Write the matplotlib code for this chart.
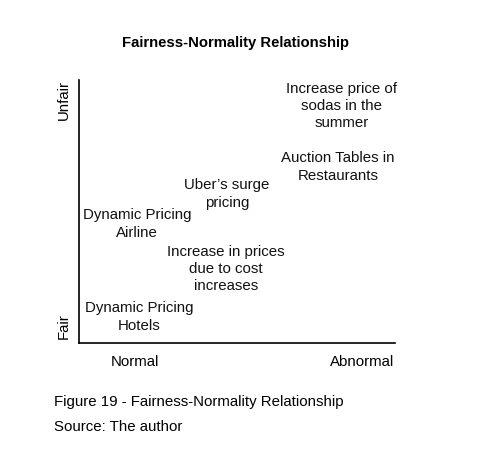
import matplotlib
matplotlib.use("Agg")
import matplotlib.pyplot as plt

plt.rcParams['font.family'] = ['Liberation Sans', 'DejaVu Sans']

labels = [
    "Increase price of\nsodas in the\nsummer",
    "Auction Tables in\nRestaurants",
    "Uber\u2019s surge\npricing",
    "Dynamic Pricing\nAirline",
    "Increase in prices\ndue to cost\nincreases",
    "Dynamic Pricing\nHotels",
]
normality = [8.32, 8.2, 4.68, 1.84, 4.65, 1.9]
fairness = [9.01, 6.69, 5.67, 4.52, 2.81, 0.99]

W, H = 485, 451
FS = 10.8
fig = plt.figure(figsize=(W / 100, H / 100), dpi=100)
ax = fig.add_axes([79 / W, (H - 343) / H, 316 / W, 263 / H])
ax.set_xlim(0, 10)
ax.set_ylim(0, 10)
ax.set_xticks([])
ax.set_yticks([])
for s in ['top', 'right']:
    ax.spines[s].set_visible(False)
for s in ['left', 'bottom']:
    ax.spines[s].set_linewidth(1.2)
    ax.spines[s].set_color('black')

for lab, x, y in zip(labels, normality, fairness):
    ax.text(x, y, lab, ha='center', va='center', fontsize=FS,
            linespacing=1.3, color='#111111')

def fpt(px, py):
    return px / W, 1 - py / H

fig.text(*fpt(236, 43), "Fairness-Normality Relationship", ha='center', va='center',
         fontsize=10.7, fontweight='bold')
fig.text(*fpt(64, 100), "Unfair", ha='center', va='center', rotation=90, fontsize=FS)
fig.text(*fpt(64, 326), "Fair", ha='center', va='center', rotation=90, fontsize=FS)
fig.text(*fpt(135, 362), "Normal", ha='center', va='center', fontsize=FS)
fig.text(*fpt(362, 362), "Abnormal", ha='center', va='center', fontsize=FS)
fig.text(*fpt(54, 402), "Figure 19 - Fairness-Normality Relationship", ha='left', va='center',
         fontsize=FS)
fig.text(*fpt(54, 427), "Source: The author", ha='left', va='center', fontsize=FS)

fig.savefig("out.png", dpi=100)
